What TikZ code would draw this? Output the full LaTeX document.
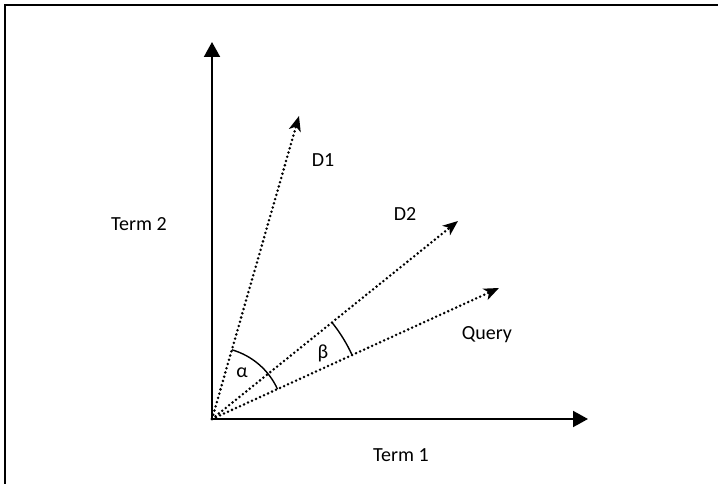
\documentclass[tikz,border=0pt]{standalone}
\usepackage{fontspec}
\setmainfont{Carlito}
\usetikzlibrary{arrows.meta}
\begin{document}
\begin{tikzpicture}[x=0.5pt,y=0.5pt,
    axis/.style={line width=1pt,-{Triangle[length=7.5pt,width=8pt]}},
    vec/.style={line width=1.4pt,dash pattern=on 0pt off 2.2pt,line cap=round,
      -{Stealth[length=7.5pt,width=6pt,inset=2pt]}},
    angarc/.style={line width=0.7pt},
    lbl/.style={font=\fontsize{10}{12}\selectfont}]
  \useasboundingbox (-212,-64) rectangle (506,419);
  \draw[line width=1.25pt] (-207,-70)--(-207,414)--(512,414);
  \coordinate (O) at (0,0);
  \coordinate (yend) at (0,377);
  \coordinate (xend) at (376,0);
  \coordinate (d1) at (87,303);
  \coordinate (d2) at (246,198);
  \coordinate (q) at (287,131);
  \draw[axis] (O)--(yend);
  \draw[axis] (O)--(xend);
  \draw[vec] (O)--(d1);
  \draw[vec] (O)--(d2);
  \draw[vec] (O)--(q);
  \draw[angarc] (O) ++(73.98:72) arc[start angle=73.98,end angle=24.54,radius=72];
  \draw[angarc] (O) ++(38.83:154) arc[start angle=38.83,end angle=24.54,radius=154];
  \node[lbl] (labd1) at (111,259) {D1};
  \node[lbl] (labd2) at (193,205) {D2};
  \node[lbl] (labq) at (275,84) {Query};
  \node[lbl] (labt2) at (-73,195) {Term 2};
  \node[lbl] (labt1) at (189,-36) {Term 1};
  \node[lbl] (alpha) at (30,46) {α};
  \node[lbl] (beta) at (111,66) {β};
\end{tikzpicture}
\end{document}
